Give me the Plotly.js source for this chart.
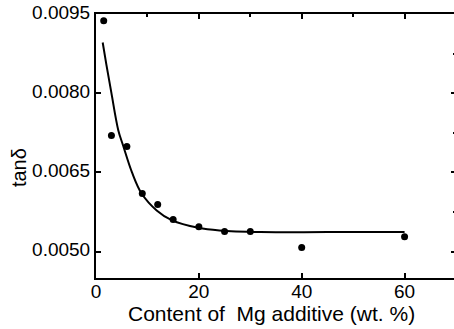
<!DOCTYPE html>
<html><head><meta charset="utf-8">
<script src="https://cdn.plot.ly/plotly-3.0.1.min.js"></script>
<style>html,body{margin:0;padding:0;overflow:hidden;background:#fff;width:454px;height:329px}</style>
</head><body><div id="chart"></div>
<script>
// measured data points
const mgContent = [1.5, 3, 6, 9, 12, 15, 20, 25, 30, 40, 60];
const tanDelta = [0.00937, 0.0072, 0.00699, 0.0061, 0.00589, 0.00561, 0.00547, 0.00538, 0.00538, 0.00508, 0.00528];
// fitted curve
const fitX = [1.3, 2, 3, 4.33, 5.3, 7, 8.87, 11.8, 14.8, 19.9, 24, 32, 45, 60];
const fitY = [0.00896, 0.00855, 0.0080, 0.0073, 0.0070, 0.0065, 0.0061, 0.00578, 0.00559, 0.00545, 0.0054, 0.00537, 0.00537, 0.00537];
const xTicks = [0, 20, 40, 60];
const yTicks = [0.0050, 0.0065, 0.0080, 0.0095];
const yTickText = ['0.0050', '0.0065', '0.0080', '0.0095'];
const xTitle = 'Content of  Mg additive (wt. %)';
const yTitle = 'tanδ';

const font = {family: 'Liberation Sans, Arial, sans-serif', color: '#000'};
const traces = [
  {x: fitX, y: fitY, mode: 'lines', line: {color: '#000', width: 2, shape: 'spline', smoothing: 1}, hoverinfo: 'skip'},
  {x: mgContent, y: tanDelta, mode: 'markers', marker: {color: '#000', size: 7}}
];
const layout = {
  width: 470, height: 329,
  margin: {l: 96, r: 14, t: 14, b: 51},
  showlegend: false,
  paper_bgcolor: '#fff', plot_bgcolor: '#fff',
  font: Object.assign({size: 19}, font),
  xaxis: {
    range: [0, 70], tickvals: xTicks, ticktext: xTicks.map(String),
    ticks: 'inside', ticklen: 5, tickwidth: 2, tickcolor: '#000',
    showline: true, linecolor: '#000', linewidth: 2, showgrid: false, zeroline: false,
    tickfont: Object.assign({size: 19}, font), ticklabelstandoff: -5,
    automargin: false
  },
  yaxis: {
    range: [0.0045, 0.0095], tickvals: yTicks, ticktext: yTickText,
    ticks: 'inside', ticklen: 5, tickwidth: 2, tickcolor: '#000',
    showline: true, linecolor: '#000', linewidth: 2, showgrid: false, zeroline: false,
    tickfont: Object.assign({size: 19}, font), ticklabelshift: -2,
    automargin: false
  },
  xaxis2: {
    overlaying: 'x', side: 'top', range: [0, 70], tickvals: xTicks, showticklabels: false,
    ticks: 'inside', ticklen: 5, tickwidth: 2, tickcolor: '#000',
    minor: {tickvals: [10, 30, 50], ticks: 'inside', ticklen: 3, tickwidth: 2, tickcolor: '#000'},
    showline: true, linecolor: '#000', linewidth: 2, showgrid: false, zeroline: false
  },
  yaxis2: {
    overlaying: 'y', side: 'right', range: [0.0045, 0.0095], tickvals: yTicks, showticklabels: false,
    ticks: 'inside', ticklen: 5, tickwidth: 2, tickcolor: '#000',
    minor: {tickvals: [0.00575, 0.00725, 0.00875], ticks: 'inside', ticklen: 3, tickwidth: 2, tickcolor: '#000'},
    showline: true, linecolor: '#000', linewidth: 2, showgrid: false, zeroline: false
  },
  annotations: [
    {text: xTitle, xref: 'paper', yref: 'paper', x: 0.488, y: -0.1326, xanchor: 'center', yanchor: 'middle',
     showarrow: false, font: Object.assign({size: 21}, font)},
    {text: yTitle, xref: 'paper', yref: 'paper', x: -0.2136, y: 0.4167, xanchor: 'center', yanchor: 'middle',
     textangle: -90, showarrow: false, font: Object.assign({size: 20}, font)}
  ]
};
traces.push({x: [0], y: [0.0045], xaxis: 'x2', yaxis: 'y2', mode: 'markers', marker: {opacity: 0}, hoverinfo: 'skip'});
Plotly.newPlot('chart', traces, layout, {staticPlot: true});
</script></body></html>
